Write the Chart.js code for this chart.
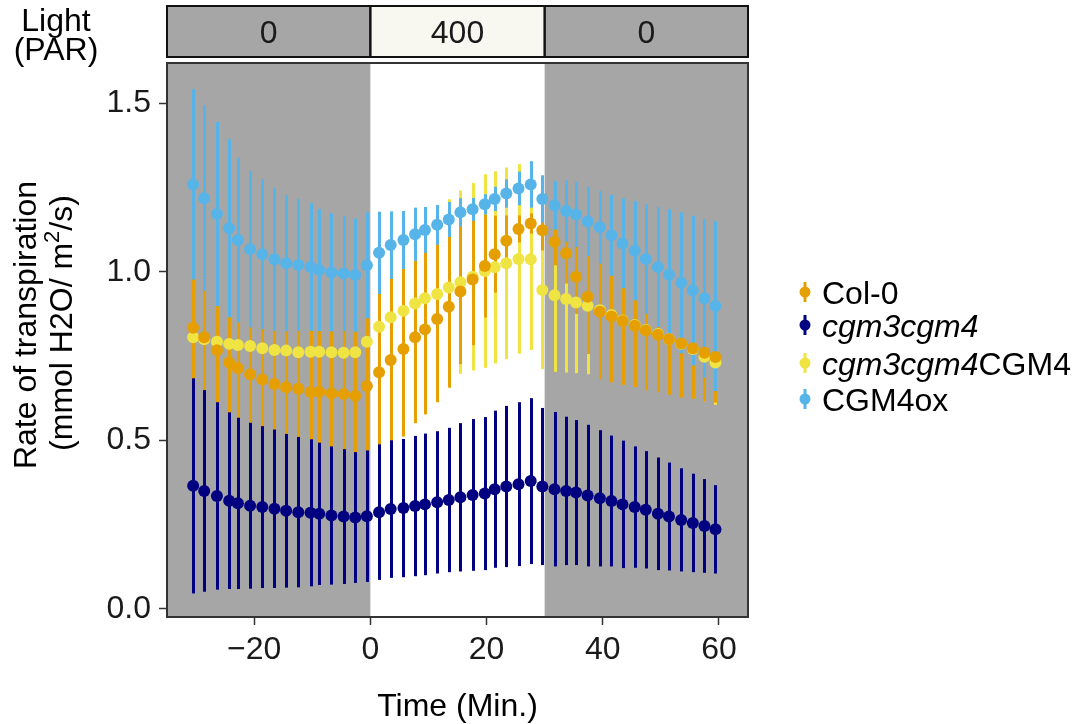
<!DOCTYPE html>
<html><head><meta charset="utf-8">
<script src="https://cdn.jsdelivr.net/npm/chart.js@4/dist/chart.umd.min.js"></script>
<style>html,body{margin:0;padding:0;background:#fff;}#wrap{width:1085px;height:724px;}</style>
</head><body><div id="wrap"><canvas id="c" width="1085" height="724"></canvas></div>
<script>
// ---- data ----
const times = [-30.5,-28.6,-26.4,-24.3,-22.8,-20.7,-18.6,-16.5,-14.5,-12.4,-10.3,-8.8,-6.7,-4.6,-2.6,-0.6,
  1.5,3.5,5.7,7.7,9.4,11.5,13.5,15.5,17.6,19.7,21.4,23.4,25.5,27.6,29.6,
  31.7,33.7,35.4,37.4,39.5,41.5,43.4,45.5,47.4,49.5,51.4,53.5,55.5,57.5,59.4];

const col0Mean = [0.834,0.806,0.767,0.731,0.714,0.696,0.680,0.667,0.657,0.653,0.643,0.644,0.639,0.637,0.632,0.661,
  0.702,0.738,0.771,0.806,0.829,0.860,0.896,0.941,0.977,1.017,1.052,1.092,1.127,1.143,1.123,
  1.089,1.055,0.985,0.926,0.881,0.867,0.854,0.840,0.826,0.813,0.800,0.787,0.773,0.760,0.747];
const col0Se = [0.292,0.288,0.282,0.289,0.292,0.293,0.288,0.287,0.283,0.280,0.277,0.272,0.274,0.272,0.268,0.271,
  0.272,0.264,0.260,0.255,0.252,0.247,0.240,0.215,0.195,0.153,0.114,0.075,0.040,0.030,0.060,
  0.070,0.090,0.110,0.170,0.200,0.195,0.190,0.182,0.178,0.170,0.165,0.160,0.150,0.145,0.135];

const cgmMean = [0.365,0.350,0.335,0.321,0.313,0.306,0.302,0.297,0.291,0.287,0.285,0.282,0.277,0.274,0.271,0.275,
  0.287,0.296,0.299,0.305,0.310,0.316,0.323,0.331,0.338,0.342,0.355,0.363,0.370,0.379,0.363,
  0.355,0.350,0.345,0.336,0.328,0.320,0.310,0.302,0.294,0.282,0.274,0.264,0.255,0.246,0.236];
const cgmSe = [0.319,0.299,0.278,0.262,0.254,0.246,0.240,0.235,0.228,0.223,0.218,0.211,0.205,0.200,0.194,0.195,
  0.201,0.204,0.205,0.208,0.210,0.211,0.214,0.220,0.225,0.227,0.233,0.239,0.243,0.246,0.233,
  0.229,0.220,0.215,0.210,0.202,0.194,0.189,0.180,0.174,0.167,0.160,0.153,0.146,0.139,0.131];

const compMean = [0.806,0.800,0.792,0.786,0.783,0.780,0.773,0.768,0.766,0.761,0.763,0.763,0.761,0.760,0.761,0.792,
  0.837,0.865,0.884,0.906,0.921,0.934,0.953,0.969,0.985,1.002,1.013,1.025,1.038,1.037,0.946,
  0.930,0.919,0.909,0.899,0.886,0.872,0.855,0.842,0.827,0.815,0.800,0.786,0.771,0.748,0.731];
const compSe = [0.207,0.215,0.225,0.229,0.229,0.232,0.234,0.234,0.231,0.232,0.227,0.227,0.226,0.224,0.224,0.227,
  0.222,0.222,0.228,0.247,0.262,0.259,0.262,0.272,0.278,0.287,0.285,0.284,0.281,0.269,0.235,
  0.227,0.218,0.210,0.203,0.198,0.193,0.188,0.175,0.168,0.161,0.156,0.149,0.141,0.133,0.126];

const oxMean = [1.259,1.218,1.171,1.129,1.094,1.067,1.052,1.037,1.025,1.020,1.014,1.005,0.998,0.995,0.990,1.019,
  1.056,1.079,1.094,1.111,1.124,1.139,1.155,1.176,1.185,1.200,1.216,1.232,1.247,1.259,1.216,
  1.197,1.180,1.170,1.149,1.132,1.108,1.084,1.062,1.038,1.014,0.991,0.967,0.944,0.921,0.898];
const oxSe = [0.282,0.275,0.273,0.264,0.244,0.232,0.222,0.212,0.202,0.196,0.189,0.181,0.175,0.171,0.168,0.157,
  0.122,0.100,0.086,0.079,0.068,0.059,0.052,0.042,0.034,0.030,0.036,0.042,0.050,0.069,0.070,
  0.072,0.091,0.097,0.103,0.108,0.120,0.133,0.147,0.163,0.178,0.194,0.209,0.222,0.235,0.252];

const seriesNames = ['Col-0','cgm3cgm4','cgm3cgm4CGM4','CGM4ox'];
const seriesItalic = ['', 'cgm3cgm4', 'cgm3cgm4', ''];
const seriesMeans = [col0Mean, cgmMean, compMean, oxMean];
const seriesSes = [col0Se, cgmSe, compSe, oxSe];
const seriesColors = ['#E69F00','#000080','#F0E442','#56B4E9'];
const drawOrder = [1, 2, 3, 0];

const xTicks = [-20, 0, 20, 40, 60];
const yTicks = [0, 0.5, 1.0, 1.5];
const lightEdges = [0, 30];
const lightLevels = ['0', '400', '0'];

// ---- drawing ----
const FONT = '"Liberation Sans", Arial, Helvetica, sans-serif';
const FS = 32;
const DARK = '#A6A6A6', LIGHTFILL = '#F8F8F0';

const panelPlugin = {
  id: 'panel',
  beforeDatasetsDraw(chart) {
    const {ctx, chartArea: a, scales: {x, y}} = chart;
    ctx.save();
    ctx.fillStyle = DARK;
    ctx.fillRect(a.left, a.top, a.right - a.left, a.bottom - a.top);
    ctx.fillStyle = '#ffffff';
    const x0 = x.getPixelForValue(lightEdges[0]), x1 = x.getPixelForValue(lightEdges[1]);
    ctx.fillRect(x0, a.top, x1 - x0, a.bottom - a.top);
    // error bars
    ctx.lineWidth = 3;
    ctx.lineCap = 'butt';
    [2, 0, 1, 3].forEach(k => {
      ctx.strokeStyle = seriesColors[k];
      times.forEach((t, i) => {
        const px = Math.round(x.getPixelForValue(t)) + 0.5;
        const m = seriesMeans[k][i], s = seriesSes[k][i];
        ctx.beginPath();
        ctx.moveTo(px, y.getPixelForValue(m + s));
        ctx.lineTo(px, y.getPixelForValue(m - s));
        ctx.stroke();
      });
    });
    ctx.restore();
  },
  afterDraw(chart) {
    const {ctx, chartArea: a, scales: {x}} = chart;
    ctx.save();
    // panel border
    ctx.strokeStyle = '#333333';
    ctx.lineWidth = 2;
    ctx.strokeRect(a.left, a.top, a.right - a.left, a.bottom - a.top);
    // light strip
    const edges = [a.left, x.getPixelForValue(lightEdges[0]), x.getPixelForValue(lightEdges[1]), a.right];
    const sTop = 6, sBot = 57;
    ctx.font = FS + 'px ' + FONT;
    ctx.textAlign = 'center';
    ctx.textBaseline = 'alphabetic';
    for (let i = 0; i < 3; i++) {
      ctx.fillStyle = lightLevels[i] === '0' ? DARK : LIGHTFILL;
      ctx.fillRect(edges[i], sTop, edges[i + 1] - edges[i], sBot - sTop);
    }
    ctx.strokeStyle = '#111111';
    ctx.lineWidth = 2;
    for (let i = 0; i < 3; i++) {
      ctx.strokeRect(edges[i], sTop, edges[i + 1] - edges[i], sBot - sTop);
      ctx.fillStyle = '#1a1a1a';
      ctx.fillText(lightLevels[i], (edges[i] + edges[i + 1]) / 2, (sTop + sBot) / 2 + 11.5);
    }
    // Light (PAR) label
    ctx.fillStyle = '#000';
    ctx.fillText('Light', 56, 31);
    ctx.fillText('(PAR)', 56, 60);
    // x title
    ctx.fillText('Time (Min.)', (a.left + a.right) / 2, 716);
    // y title (rotated)
    ctx.save();
    ctx.translate(36, 325);
    ctx.rotate(-Math.PI / 2);
    ctx.textAlign = 'center';
    ctx.fillText('Rate of transpiration', 0, 0);
    ctx.restore();
    ctx.save();
    ctx.translate(72, 323);
    ctx.rotate(-Math.PI / 2);
    ctx.textAlign = 'left';
    const p1 = '(mmol H2O/ m', p2 = '2', p3 = '/s)';
    const SUP = 22;
    ctx.font = FS + 'px ' + FONT;
    const w1 = ctx.measureText(p1).width, w3 = ctx.measureText(p3).width;
    ctx.font = SUP + 'px ' + FONT;
    const w2 = ctx.measureText(p2).width;
    const sx = -(w1 + w2 + w3) / 2;
    ctx.font = FS + 'px ' + FONT;
    ctx.fillText(p1, sx, 0);
    ctx.font = SUP + 'px ' + FONT;
    ctx.fillText(p2, sx + w1, -13);
    ctx.font = FS + 'px ' + FONT;
    ctx.fillText(p3, sx + w1 + w2, 0);
    ctx.restore();
    // legend
    const ly = [292, 325, 363, 399];
    seriesNames.forEach((name, k) => {
      const cy = ly[k];
      const cx = 805;
      ctx.strokeStyle = seriesColors[k];
      ctx.lineWidth = 3;
      ctx.beginPath(); ctx.moveTo(cx, cy - 10); ctx.lineTo(cx, cy + 10); ctx.stroke();
      ctx.fillStyle = seriesColors[k];
      ctx.beginPath(); ctx.arc(cx, cy, 5.5, 0, Math.PI * 2); ctx.fill();
      ctx.fillStyle = '#000';
      ctx.textAlign = 'left';
      let tx = 822;
      const it = seriesItalic[k];
      const by = cy + 11.5;
      if (it && name.startsWith(it)) {
        ctx.font = 'italic ' + FS + 'px ' + FONT;
        ctx.fillText(it, tx, by);
        tx += ctx.measureText(it).width;
        ctx.font = FS + 'px ' + FONT;
        ctx.fillText(name.slice(it.length), tx, by);
      } else {
        ctx.font = FS + 'px ' + FONT;
        ctx.fillText(name, tx, by);
      }
    });
    ctx.restore();
  }
};

const fmtX = v => (v < 0 ? '\u2212' + Math.abs(v) : String(v));
const fmtY = v => Number(v).toFixed(1);

new Chart(document.getElementById('c').getContext('2d'), {
  type: 'scatter',
  data: {
    datasets: seriesMeans.map((m, k) => ({
      label: seriesNames[k],
      data: times.map((t, i) => ({x: t, y: m[i]})),
      backgroundColor: seriesColors[k],
      borderColor: seriesColors[k],
      pointRadius: 6,
      pointHoverRadius: 6,
      pointBorderWidth: 0,
      showLine: false,
      order: drawOrder[k]
    }))
  },
  options: {
    responsive: false,
    animation: false,
    devicePixelRatio: 1,
    events: [],
    layout: {padding: {left: 0, top: 63, right: 337, bottom: 0}},
    plugins: {legend: {display: false}, tooltip: {enabled: false}},
    scales: {
      x: {
        type: 'linear', min: -35, max: 65,
        afterBuildTicks: s => { s.ticks = xTicks.map(v => ({value: v})); },
        afterFit: s => { s.height = 107; },
        ticks: {callback: fmtX, font: {family: FONT, size: FS}, color: '#1a1a1a', padding: 6, maxRotation: 0, autoSkip: false},
        grid: {drawOnChartArea: false, drawTicks: true, tickLength: 8, tickColor: '#333333', tickWidth: 1.5},
        border: {display: false}
      },
      y: {
        type: 'linear', min: -0.024, max: 1.619,
        afterBuildTicks: s => { s.ticks = yTicks.map(v => ({value: v})); },
        afterFit: s => { s.width = 167; },
        ticks: {callback: fmtY, font: {family: FONT, size: FS}, color: '#1a1a1a', padding: 8, autoSkip: false},
        grid: {drawOnChartArea: false, drawTicks: true, tickLength: 8, tickColor: '#333333', tickWidth: 1.5},
        border: {display: false}
      }
    }
  },
  plugins: [panelPlugin]
});
</script></body></html>
